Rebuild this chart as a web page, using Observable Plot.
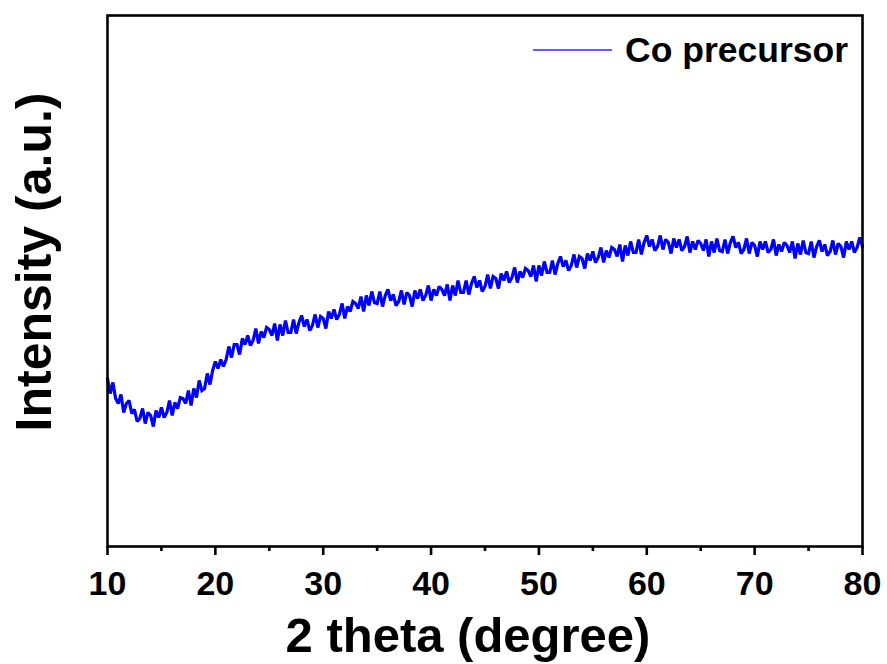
<!DOCTYPE html>
<html>
<head>
<meta charset="utf-8">
<script src="https://cdn.jsdelivr.net/npm/d3@7"></script>
<script src="https://cdn.jsdelivr.net/npm/@observablehq/plot@0.6"></script>
<style>
  html, body { margin: 0; padding: 0; background: #fff; }
  #chart svg { display: block; }
</style>
</head>
<body>
<div id="chart"></div>
<script>
// ---- data ----
const seriesName = "Co precursor";
const xLabel = "2 theta (degree)";
const yLabel = "Intensity (a.u.)";
const thetaStart = 10;      // first 2θ sample (degree)
const thetaStep = 0.25;     // sampling step (degree)
// intensity (a.u.), one row per degree: 2θ = d.00, d.25, d.50, d.75
const intensity = [
  168,153,164,148, 143,152,134,143, 146,133,137,125, 128,138,123,134,
  131,120,136,129, 139,129,134,146, 131,144,138,149, 148,143,156,141,
  158,149,166,156, 158,173,162,176, 185,178,187,180, 187,200,189,202,
  202,192,208,202, 211,201,206,218, 203,215,209,219, 217,211,223,206,
  222,211,226,214, 214,227,213,224, 231,220,227,216, 221,232,219,230,
  228,218,235,228, 237,227,232,243, 228,240,235,245, 243,238,250,235,
  251,241,255,244, 243,255,240,251, 257,246,252,241, 245,256,242,254,
  251,240,256,248, 257,246,251,261, 246,257,251,260, 257,251,262,246,
  261,251,266,254, 254,266,252,263, 270,259,266,255, 260,272,258,270,
  268,258,273,266, 275,264,269,279, 264,275,269,278, 276,270,281,265,
  281,271,285,274, 274,286,272,283, 290,280,286,276, 281,292,279,290,
  288,278,293,286, 295,284,289,299, 284,296,289,299, 297,290,302,285,
  301,291,305,294, 294,307,292,304, 311,300,307,296, 300,311,297,307,
  304,293,308,299, 307,296,300,310, 294,305,297,306, 303,296,307,290,
  305,294,308,296, 295,307,293,304, 310,299,304,293, 297,308,293,304,
  301,290,305,297, 305,294,297,307, 291,302,295,304, 301,294,305,288,
  303,292,306,294, 293,305,289,300, 306,295,302,291, 295,306,292,303,
  300,289,305,297, 305,294,299,309,
  300
];
const xMajorTicks = [10, 20, 30, 40, 50, 60, 70, 80];
const xMinorTicks = [15, 25, 35, 45, 55, 65, 75];
const xDomain = [10, 80];
const yDomain = [0, 531];

// ---- build table ----
const data = intensity.map((v, i) => ({theta: thetaStart + i * thetaStep, intensity: v}));

const FONT = "'Liberation Sans', Arial, Helvetica, sans-serif";
const BLUE = "#0000ff";

// legend drawn inside the frame, top-right
function legendMark(index, scales, values, dimensions) {
  const {width, marginRight, marginTop} = dimensions;
  const right = width - marginRight;
  const g = d3.create("svg:g");
  const ty = marginTop + 35;
  g.append("line")
    .attr("x1", right - 329).attr("x2", right - 250)
    .attr("y1", ty).attr("y2", ty)
    .attr("stroke", "#2a2aff").attr("stroke-width", 1.6);
  g.append("text")
    .attr("x", right - 14).attr("y", ty)
    .attr("text-anchor", "end").attr("dominant-baseline", "central")
    .attr("font-family", FONT).attr("font-weight", "bold").attr("font-size", 35.5)
    .attr("fill", "#000")
    .text(seriesName);
  return g.node();
}

const chart = Plot.plot({
  width: 887,
  height: 664,
  marginLeft: 107,
  marginRight: 25,
  marginTop: 15,
  marginBottom: 118,
  style: {fontFamily: FONT, background: "#fff", color: "#000"},
  x: {domain: xDomain},
  y: {domain: yDomain, axis: null},
  marks: [
    Plot.line(data, {x: "theta", y: "intensity", stroke: BLUE, strokeWidth: 3.2, strokeLinejoin: "miter", strokeMiterlimit: 2}),
    Plot.frame({stroke: "#000", strokeWidth: 2.6}),
    Plot.axisX({ticks: xMajorTicks, tickSize: 9, tickPadding: 15, strokeWidth: 2.6,
                fontSize: 34, fontWeight: "bold", label: null}),
    Plot.axisX({ticks: xMinorTicks, tickSize: 5, strokeWidth: 2.6, tickFormat: () => "", label: null}),
    Plot.text([xLabel], {frameAnchor: "bottom", dy: 90, dx: -17, text: d => d,
                         fontSize: 49, fontWeight: "bold", lineAnchor: "middle", fill: "#000"}),
    Plot.text([yLabel], {frameAnchor: "left", dx: -73, dy: -19, rotate: -90, text: d => d,
                         fontSize: 50, fontWeight: "bold", lineAnchor: "middle", textAnchor: "middle", fill: "#000"}),
    legendMark
  ]
});
document.getElementById("chart").append(chart);
</script>
</body>
</html>
